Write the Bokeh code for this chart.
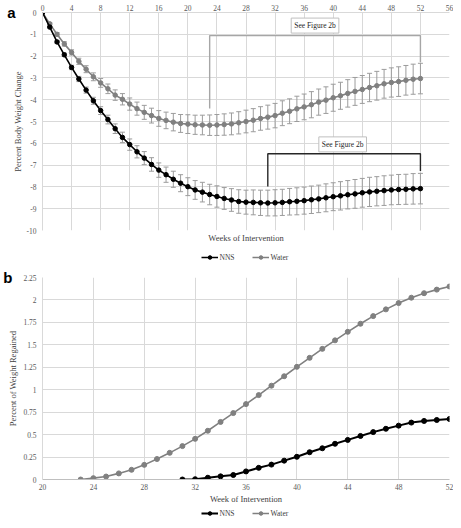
from bokeh.plotting import figure
from bokeh.models import (Range1d, FixedTicker, LinearAxis, Legend, LegendItem, Whisker,
                          TeeHead, ColumnDataSource, Label, NumeralTickFormatter)
from bokeh.layouts import column
from bokeh.embed import file_html
from bokeh.resources import INLINE

# ---------------- data ----------------
weeks_a = list(range(0, 53))
nns_change = [0, -0.67, -1.35, -1.94, -2.52, -3.05, -3.56, -4.05, -4.5, -4.91,
              -5.33, -5.73, -6.06, -6.39, -6.68, -6.97, -7.23, -7.44, -7.65, -7.83,
              -7.99, -8.14, -8.24, -8.35, -8.44, -8.53, -8.6, -8.67, -8.70, -8.71,
              -8.73, -8.74, -8.73, -8.71, -8.68, -8.66, -8.63, -8.59, -8.55, -8.50,
              -8.45, -8.41, -8.36, -8.32, -8.27, -8.23, -8.20, -8.17, -8.14, -8.12,
              -8.11, -8.09, -8.08]
nns_err = [0, 0.04, 0.06, 0.08, 0.1, 0.12, 0.14, 0.16, 0.18, 0.2,
           0.22, 0.24, 0.26, 0.28, 0.3, 0.31, 0.33, 0.35, 0.37, 0.39,
           0.41, 0.43, 0.45, 0.47, 0.49, 0.5, 0.52, 0.54, 0.55, 0.57,
           0.58, 0.59, 0.6, 0.6, 0.61, 0.62, 0.62, 0.63, 0.63, 0.64,
           0.64, 0.65, 0.65, 0.66, 0.66, 0.67, 0.67, 0.68, 0.68, 0.69,
           0.69, 0.7, 0.7]
water_change = [0, -0.52, -1.0, -1.44, -1.83, -2.24, -2.6, -2.95, -3.23, -3.5,
                -3.79, -3.98, -4.2, -4.41, -4.58, -4.73, -4.86, -4.95, -5.03, -5.09,
                -5.12, -5.15, -5.16, -5.17, -5.16, -5.14, -5.11, -5.06, -5.0, -4.94,
                -4.86, -4.80, -4.73, -4.62, -4.53, -4.42, -4.33, -4.23, -4.11, -4.02,
                -3.91, -3.82, -3.71, -3.62, -3.53, -3.44, -3.36, -3.27, -3.21, -3.17,
                -3.11, -3.06, -3.03]
water_err = [0, 0.05, 0.08, 0.1, 0.12, 0.14, 0.16, 0.18, 0.2, 0.22,
             0.24, 0.26, 0.28, 0.3, 0.32, 0.34, 0.36, 0.38, 0.4, 0.41,
             0.43, 0.44, 0.45, 0.47, 0.48, 0.49, 0.5, 0.51, 0.52, 0.53,
             0.54, 0.55, 0.56, 0.57, 0.57, 0.58, 0.59, 0.6, 0.6, 0.61,
             0.62, 0.62, 0.63, 0.64, 0.64, 0.65, 0.66, 0.66, 0.67, 0.68,
             0.68, 0.69, 0.7]

weeks_b_nns = list(range(31, 53))
nns_regain = [0, 0.003, 0.02, 0.035, 0.05, 0.09, 0.13, 0.166, 0.21, 0.253,
              0.304, 0.348, 0.398, 0.441, 0.485, 0.528, 0.565, 0.60, 0.634, 0.652,
              0.663, 0.674]
weeks_b_water = list(range(23, 53))
water_regain = [0, 0.015, 0.033, 0.068, 0.108, 0.163, 0.228, 0.297, 0.372, 0.453,
                0.543, 0.641, 0.74, 0.84, 0.94, 1.045, 1.15, 1.255, 1.355, 1.455,
                1.55, 1.645, 1.735, 1.82, 1.895, 1.965, 2.025, 2.075, 2.115, 2.15]

series_names = ["NNS", "Water"]
panel_letters = ["a", "b"]
x_ticks_a = list(range(0, 57, 4))
y_ticks_a = list(range(-10, 1))
x_ticks_b = list(range(20, 53, 4))
y_ticks_b = [0, 0.25, 0.5, 0.75, 1, 1.25, 1.5, 1.75, 2, 2.25]
callout_text = "See Figure 2b"
title_a_x = "Weeks of Intervention"
title_a_y = "Percent Body Weight Change"
title_b_x = "Week of Intervention"
title_b_y = "Percent of Weight Regained"

# bracket levels / callout positions (annotation placement)
water_bracket_top = -1.06
water_bracket_left_end = -4.4
water_bracket_right_end = -2.27
water_callout = (37.5, -0.6)
nns_bracket_top = -6.48
nns_bracket_left_end = -7.98
nns_bracket_right_end = -7.27
nns_callout = (41.3, -6.05)

# ---------------- styles ----------------
SERIF = "Liberation Serif"
SANS = "Liberation Sans"
GRID = "#d9d9d9"
TICK_C = "#595959"
TITLE_C = "#404040"
NNS_C = "#000000"
WATER_C = "#808080"
ERR_C = "#9c9c9c"
W = 453


def style_axis(ax):
    ax.axis_line_color = GRID
    ax.major_tick_line_color = None
    ax.minor_tick_line_color = None
    ax.major_tick_out = 0
    ax.major_tick_in = 0
    ax.major_label_text_font = SERIF
    ax.major_label_text_font_size = "7.5px"
    ax.major_label_text_color = TICK_C
    ax.axis_label_text_font = SERIF
    ax.axis_label_text_font_size = "8.5px"
    ax.axis_label_text_font_style = "normal"
    ax.axis_label_text_color = TITLE_C


def letter_axis(tick, text, standoff, range_name="default"):
    ax = LinearAxis(ticker=FixedTicker(ticks=[tick]), y_range_name=range_name,
                    major_label_overrides={tick: text})
    ax.axis_line_color = None
    ax.major_tick_line_color = None
    ax.minor_tick_line_color = None
    ax.major_tick_out = 0
    ax.major_tick_in = 0
    ax.major_label_standoff = standoff
    ax.major_label_text_font = SANS
    ax.major_label_text_font_style = "bold"
    ax.major_label_text_font_size = "15px"
    ax.major_label_text_color = "black"
    return ax


def legend_strip(height, series, styles):
    # the series are plotted in a y-window where they are out of view;
    # only their legend glyphs show
    f = figure(width=W, height=height, x_range=Range1d(0, 1), y_range=Range1d(5, 6),
               x_axis_type=None, y_axis_type=None, toolbar_location=None,
               output_backend="svg", min_border=0)
    f.outline_line_color = None
    f.grid.visible = False
    items = []
    for name, (xs, ys), (col, lw, sz) in zip(series_names, series, styles):
        rl = f.line(xs, ys, line_color=col, line_width=lw)
        rs = f.scatter(xs, ys, size=sz, color=col)
        items.append(LegendItem(label=name, renderers=[rl, rs]))
    f.add_layout(Legend(items=items, orientation="horizontal", location="center",
                        label_text_font=SERIF, label_text_font_size="7.5px",
                        label_text_color=TITLE_C, glyph_width=17, glyph_height=9,
                        label_height=9, label_standoff=2, spacing=12, padding=0,
                        margin=0, border_line_color=None, background_fill_alpha=0))
    return f


# ---------------- panel a ----------------
pa = figure(width=W, height=248, x_range=Range1d(0, 56), y_range=Range1d(-10, 0),
            x_axis_location="above", output_backend="svg", toolbar_location=None,
            min_border_left=32, min_border_right=4, min_border_top=12,
            min_border_bottom=18)
pa.outline_line_color = None
pa.xaxis.ticker = FixedTicker(ticks=x_ticks_a)
pa.yaxis.ticker = FixedTicker(ticks=y_ticks_a)
pa.xgrid.ticker = FixedTicker(ticks=x_ticks_a)
pa.ygrid.ticker = FixedTicker(ticks=y_ticks_a)
pa.xaxis.formatter = NumeralTickFormatter(format="0")
pa.yaxis.formatter = NumeralTickFormatter(format="0")
for g in (pa.xgrid, pa.ygrid):
    g.grid_line_color = GRID
    g.grid_line_width = 1
style_axis(pa.xaxis[0])
style_axis(pa.yaxis[0])
pa.xaxis.major_label_standoff = 2
pa.yaxis.major_label_standoff = 6
pa.yaxis.axis_label = title_a_y
pa.yaxis.axis_label_standoff = 1
pa.add_layout(letter_axis(0, panel_letters[0], -6), "left")

bottom_a = LinearAxis(ticker=FixedTicker(ticks=[]), axis_label=title_a_x)
style_axis(bottom_a)
bottom_a.axis_line_color = None
bottom_a.major_label_standoff = 0
bottom_a.axis_label_standoff = 2
pa.add_layout(bottom_a, "below")

for vals, errs in ((nns_change, nns_err), (water_change, water_err)):
    src = ColumnDataSource(dict(x=weeks_a,
                                upper=[v + e for v, e in zip(vals, errs)],
                                lower=[v - e for v, e in zip(vals, errs)]))
    pa.add_layout(Whisker(source=src, base="x", upper="upper", lower="lower",
                          dimension="height", line_color=ERR_C, line_width=1,
                          upper_head=TeeHead(size=5, line_color=ERR_C, line_width=1),
                          lower_head=TeeHead(size=5, line_color=ERR_C, line_width=1)))

pa.line(weeks_a, water_change, line_color=WATER_C, line_width=1.6)
pa.scatter(weeks_a, water_change, size=4.5, color=WATER_C)
pa.line(weeks_a, nns_change, line_color=NNS_C, line_width=1.6)
pa.scatter(weeks_a, nns_change, size=4.5, color=NNS_C)

# brackets (x from data: week of minimum and last week)
w_min_week = weeks_a[water_change.index(min(water_change))]
n_min_week = weeks_a[nns_change.index(min(nns_change))]
last_week = weeks_a[-1]
pa.line([w_min_week, w_min_week, last_week, last_week],
        [water_bracket_left_end, water_bracket_top, water_bracket_top, water_bracket_right_end],
        line_color="#a6a6a6", line_width=1.4)
pa.line([n_min_week, n_min_week, last_week, last_week],
        [nns_bracket_left_end, nns_bracket_top, nns_bracket_top, nns_bracket_right_end],
        line_color="#262626", line_width=1.4)
for (cx, cy) in (water_callout, nns_callout):
    pa.add_layout(Label(x=cx, y=cy, text=callout_text, text_align="center",
                        text_baseline="middle", text_font=SERIF, text_font_size="7.5px",
                        text_color="#262626", background_fill_color="white",
                        border_line_color="#bfbfbf", border_line_width=1, padding=3))

leg_a = legend_strip(18, [(weeks_a, nns_change), (weeks_a, water_change)],
                     [(NNS_C, 1.6, 4.5), (WATER_C, 1.6, 4.5)])

# ---------------- panel b ----------------
pb = figure(width=W, height=240, x_range=Range1d(20, 52), y_range=Range1d(0, 2.25),
            output_backend="svg", toolbar_location=None,
            min_border_left=33, min_border_right=4, min_border_top=11,
            min_border_bottom=24)
pb.outline_line_color = None
pb.extra_y_ranges = {"letter": Range1d(0, 1)}
pb.xaxis.ticker = FixedTicker(ticks=x_ticks_b)
pb.yaxis.ticker = FixedTicker(ticks=y_ticks_b)
pb.xgrid.ticker = FixedTicker(ticks=x_ticks_b)
pb.ygrid.ticker = FixedTicker(ticks=y_ticks_b)
pb.xaxis.formatter = NumeralTickFormatter(format="0")
pb.yaxis.formatter = NumeralTickFormatter(format="0.[00]")
for g in (pb.xgrid, pb.ygrid):
    g.grid_line_color = GRID
    g.grid_line_width = 1
style_axis(pb.xaxis[0])
style_axis(pb.yaxis[0])
pb.xaxis.axis_line_color = "#bfbfbf"
pb.xaxis.major_label_standoff = 4
pb.xaxis.axis_label = title_b_x
pb.xaxis.axis_label_standoff = 1
pb.yaxis.major_label_standoff = 6
pb.yaxis.axis_label = title_b_y
pb.yaxis.axis_label_standoff = 2
pb.add_layout(letter_axis(1, panel_letters[1], -7, "letter"), "left")

pb.line(weeks_b_water, water_regain, line_color=WATER_C, line_width=1.6)
pb.scatter(weeks_b_water, water_regain, size=5, color=WATER_C)
pb.line(weeks_b_nns, nns_regain, line_color=NNS_C, line_width=2)
pb.scatter(weeks_b_nns, nns_regain, size=5, color=NNS_C)

leg_b = legend_strip(14, [(weeks_b_nns, nns_regain), (weeks_b_water, water_regain)],
                     [(NNS_C, 2, 5), (WATER_C, 1.6, 5)])

layout = column(pa, leg_a, pb, leg_b, spacing=0)
open("out.html", "w").write(file_html(layout, INLINE))
